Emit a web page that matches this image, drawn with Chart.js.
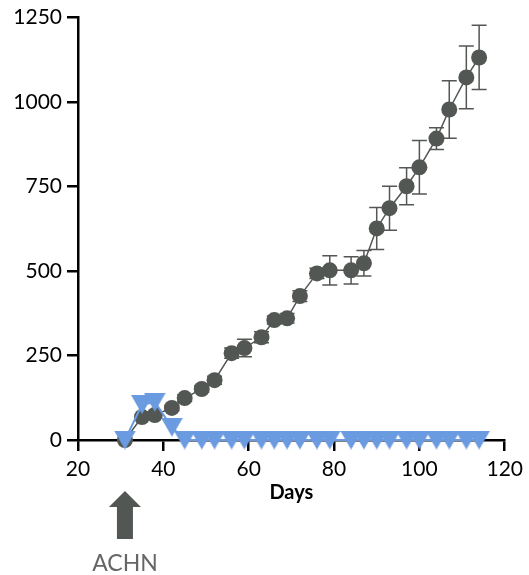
<!DOCTYPE html>
<html><head><meta charset="utf-8">
<script src="https://cdn.jsdelivr.net/npm/chart.js@4/dist/chart.umd.min.js"></script>
<style>html,body{margin:0;padding:0;background:#fff}canvas{display:block}</style>
</head><body>
<canvas id="c" width="529" height="575"></canvas>
<script>
const days = [31, 35, 38, 42, 45, 49, 52, 56, 59, 63, 66, 69, 72, 76, 79, 84, 87, 90, 93, 97, 100, 104, 107, 111, 114];
const tumorMeans = [0, 68, 74, 95, 124, 151, 177, 257, 272, 304, 355, 360, 426, 493, 502, 502, 523, 626, 686, 751, 807, 892, 978, 1073, 1132];
const tumorErrors = [0, 6, 8, 8, 10, 10, 12, 15, 26, 16, 12, 14, 16, 15, 43, 40, 38, 62, 65, 55, 79, 32, 85, 93, 95];
const controlMeans = [0, 105, 112, 38, 0, 0, 0, 0, 0, 0, 0, 0, 0, 0, 0, 0, 0, 0, 0, 0, 0, 0, 0, 0, 0];
const xTicks = [20, 40, 60, 80, 100, 120];
const yTicks = [0, 250, 500, 750, 1000, 1250];
const xTitle = 'Days';
const arrowDay = 31;
const arrowLabel = 'ACHN';

const GRAY = '#535753';
const BLUE = '#6a9ae0';

function triangleImage(w, h, color) {
  const c = document.createElement('canvas');
  c.width = w; c.height = h;
  const g = c.getContext('2d');
  g.fillStyle = color;
  g.beginPath();
  g.moveTo(0, 0); g.lineTo(w, 0); g.lineTo(w / 2, h); g.closePath();
  g.fill();
  return c;
}

const errorBars = {
  id: 'errorBars',
  beforeDatasetsDraw(chart) {
    const meta = chart.getDatasetMeta(1);
    const ys = chart.scales.y;
    const ctx = chart.ctx;
    ctx.save();
    ctx.strokeStyle = GRAY;
    ctx.lineWidth = 1.5;
    meta.data.forEach((pt, i) => {
      const e = tumorErrors[i];
      if (!e) return;
      const top = ys.getPixelForValue(tumorMeans[i] + e);
      const bot = ys.getPixelForValue(tumorMeans[i] - e);
      ctx.beginPath();
      ctx.moveTo(pt.x, top); ctx.lineTo(pt.x, bot);
      ctx.moveTo(pt.x - 7.5, top); ctx.lineTo(pt.x + 7.5, top);
      ctx.moveTo(pt.x - 7.5, bot); ctx.lineTo(pt.x + 7.5, bot);
      ctx.stroke();
    });
    ctx.restore();
  }
};

const arrowNote = {
  id: 'arrowNote',
  afterDraw(chart) {
    const ctx = chart.ctx;
    const x = chart.scales.x.getPixelForValue(arrowDay);
    const b = chart.chartArea.bottom;
    ctx.save();
    ctx.fillStyle = GRAY;
    ctx.beginPath();
    ctx.moveTo(x, b + 51);
    ctx.lineTo(x + 16, b + 67);
    ctx.lineTo(x + 8, b + 67);
    ctx.lineTo(x + 8, b + 99);
    ctx.lineTo(x - 8, b + 99);
    ctx.lineTo(x - 8, b + 67);
    ctx.lineTo(x - 16, b + 67);
    ctx.closePath();
    ctx.fill();
    ctx.fillStyle = '#666666';
    ctx.font = '23px Lato';
    ctx.textAlign = 'center';
    ctx.textBaseline = 'middle';
    ctx.fillText(arrowLabel, x, b + 124);
    ctx.restore();
  }
};

function draw() {
  const tri = triangleImage(22, 19, BLUE);
  new Chart(document.getElementById('c'), {
    type: 'line',
    data: {
      datasets: [
        {
          label: 'Control',
          data: days.map((d, i) => ({ x: d, y: controlMeans[i] })),
          borderColor: BLUE,
          backgroundColor: BLUE,
          borderWidth: 2,
          pointStyle: tri,
          pointRadius: 10,
          clip: false
        },
        {
          label: 'ACHN',
          data: days.map((d, i) => ({ x: d, y: tumorMeans[i] })),
          borderColor: GRAY,
          backgroundColor: GRAY,
          borderWidth: 1.5,
          pointStyle: 'circle',
          pointRadius: 8,
          pointBorderWidth: 0,
          clip: false
        }
      ]
    },
    options: {
      responsive: false,
      animation: false,
      events: [],
      layout: { padding: { top: 17, right: 22, left: 0, bottom: 0 } },
      plugins: { legend: { display: false }, tooltip: { enabled: false } },
      scales: {
        x: {
          type: 'linear', min: 20, max: 120,
          afterBuildTicks: s => { s.ticks = xTicks.map(v => ({ value: v })); },
          afterFit: s => { s.height = 135; },
          border: { color: '#000', width: 2.5 },
          grid: { drawOnChartArea: false, drawTicks: true, tickLength: 11, color: '#000', lineWidth: 2.5 },
          ticks: { font: { family: 'Lato', size: 21 }, color: '#000', padding: 6, maxRotation: 0, callback: v => String(v) },
          title: { display: true, text: xTitle, font: { family: 'Lato', size: 20, weight: 'bold' }, color: '#000', padding: { top: 0, bottom: 70 } }
        },
        y: {
          type: 'linear', min: 0, max: 1250,
          afterBuildTicks: s => { s.ticks = yTicks.map(v => ({ value: v })); },
          afterFit: s => { s.width = 78; },
          border: { color: '#000', width: 2.5 },
          grid: { drawOnChartArea: false, drawTicks: true, tickLength: 11, color: '#000', lineWidth: 2.5 },
          ticks: { font: { family: 'Lato', size: 21 }, color: '#000', padding: 5, callback: v => String(v) }
        }
      }
    },
    plugins: [errorBars, arrowNote]
  });
}
Promise.all([document.fonts.load('21px Lato'), document.fonts.load('bold 20px Lato')]).then(draw, draw);
</script>
</body></html>
